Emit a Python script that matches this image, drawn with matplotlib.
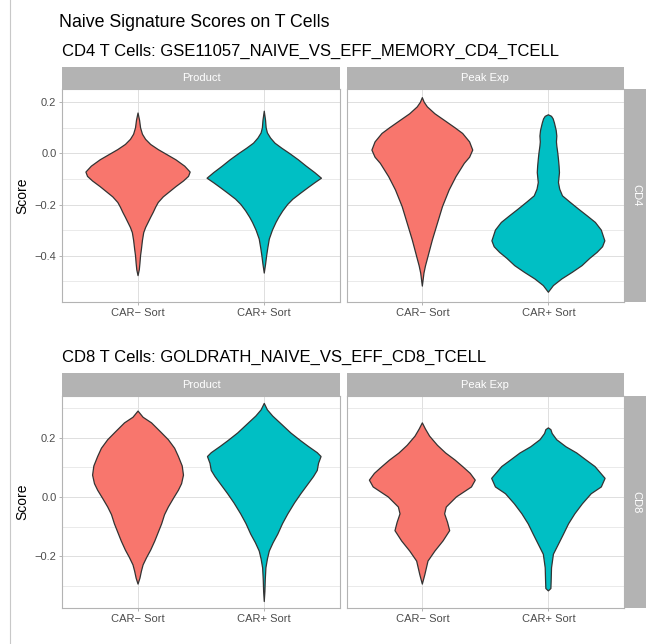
import numpy as np
import matplotlib
matplotlib.use("Agg")
import matplotlib.pyplot as plt
from matplotlib.lines import Line2D

plt.rcParams['font.family'] = ['Liberation Sans', 'DejaVu Sans']

# --------------------------------------------------
# data: violin outlines (score, half width in category units)
# --------------------------------------------------
groups = ["CAR\u2212 Sort", "CAR+ Sort"]
facets = ["Product", "Peak Exp"]
title = "Naive Signature Scores on T Cells"
cd4_subtitle = "CD4 T Cells: GSE11057_NAIVE_VS_EFF_MEMORY_CD4_TCELL"
cd8_subtitle = "CD8 T Cells: GOLDRATH_NAIVE_VS_EFF_CD8_TCELL"

cd4_yticks = [0.2, 0.0, -0.2, -0.4]
cd8_yticks = [0.2, 0.0, -0.2]

# CD4 / Product
cd4_prod_neg_y = [0.158, 0.13, 0.10, 0.075, 0.055, 0.035, 0.015, -0.005, -0.025, -0.05, -0.073, -0.09,
                  -0.108, -0.13, -0.15, -0.17, -0.192, -0.21, -0.231, -0.25, -0.27, -0.29, -0.31, -0.34,
                  -0.374, -0.40, -0.43, -0.455, -0.478]
cd4_prod_neg_w = [0.0, 0.012, 0.02, 0.035, 0.06, 0.10, 0.16, 0.23, 0.30, 0.37, 0.413, 0.40,
                  0.36, 0.30, 0.25, 0.20, 0.16, 0.14, 0.12, 0.10, 0.08, 0.06, 0.045, 0.035,
                  0.027, 0.02, 0.015, 0.01, 0.0]
cd4_prod_pos_y = [0.165, 0.13, 0.10, 0.08, 0.06, 0.04, 0.02, 0.0, -0.025, -0.05, -0.075, -0.097, -0.115,
                  -0.134, -0.155, -0.179, -0.20, -0.225, -0.25, -0.27, -0.30, -0.335, -0.37, -0.40,
                  -0.435, -0.468]
cd4_prod_pos_w = [0.0, 0.01, 0.015, 0.025, 0.05, 0.085, 0.14, 0.20, 0.27, 0.333, 0.40, 0.453, 0.40,
                  0.347, 0.29, 0.227, 0.185, 0.147, 0.115, 0.093, 0.065, 0.04, 0.028, 0.019,
                  0.01, 0.0]

# CD4 / Peak Exp
cd4_peak_neg_y = [0.218, 0.20, 0.182, 0.155, 0.13, 0.10, 0.078, 0.045, 0.013, -0.015, -0.039, -0.065,
                  -0.091, -0.143, -0.208, -0.273, -0.338, -0.403, -0.44, -0.468, -0.519]
cd4_peak_neg_w = [0.0, 0.015, 0.04, 0.10, 0.173, 0.26, 0.32, 0.375, 0.40, 0.375, 0.333, 0.30,
                  0.267, 0.213, 0.16, 0.12, 0.08, 0.045, 0.025, 0.013, 0.0]
cd4_peak_pos_y = [0.151, 0.145, 0.135, 0.119, 0.09, 0.068, 0.045, 0.029, 0.0, -0.023, -0.05, -0.075,
                  -0.095, -0.114, -0.14, -0.166, -0.19, -0.218, -0.245, -0.27, -0.30, -0.342, -0.365,
                  -0.387, -0.41, -0.439, -0.465, -0.491, -0.517, -0.543]
cd4_peak_pos_w = [0.0, 0.025, 0.038, 0.048, 0.062, 0.067, 0.064, 0.067, 0.075, 0.08, 0.085, 0.088,
                  0.084, 0.08, 0.09, 0.112, 0.17, 0.24, 0.31, 0.373, 0.42, 0.448, 0.43,
                  0.387, 0.33, 0.267, 0.19, 0.107, 0.04, 0.0]

# CD8 / Product
cd8_prod_neg_y = [0.291, 0.27, 0.251, 0.22, 0.194, 0.165, 0.137, 0.105, 0.074, 0.045, 0.023, -0.005,
                  -0.034, -0.06, -0.091, -0.12, -0.149, -0.18, -0.206, -0.23, -0.251, -0.275, -0.295]
cd8_prod_neg_w = [0.0, 0.04, 0.107, 0.18, 0.24, 0.29, 0.32, 0.35, 0.36, 0.345, 0.32, 0.28,
                  0.24, 0.21, 0.187, 0.16, 0.133, 0.10, 0.067, 0.04, 0.027, 0.015, 0.0]
cd8_prod_pos_y = [0.317, 0.295, 0.274, 0.245, 0.217, 0.19, 0.171, 0.15, 0.137, 0.114, 0.09, 0.069,
                  0.04, 0.011, -0.02, -0.057, -0.09, -0.126, -0.155, -0.183, -0.21, -0.24, -0.28,
                  -0.32, -0.354]
cd8_prod_pos_w = [0.0, 0.025, 0.067, 0.14, 0.21, 0.29, 0.35, 0.42, 0.45, 0.43, 0.42, 0.39,
                  0.34, 0.29, 0.24, 0.187, 0.145, 0.107, 0.07, 0.04, 0.025, 0.013, 0.008,
                  0.005, 0.0]

# CD8 / Peak Exp
cd8_peak_neg_y = [0.251, 0.23, 0.206, 0.175, 0.149, 0.125, 0.103, 0.08, 0.057, 0.034, 0.0, -0.034,
                  -0.057, -0.086, -0.114, -0.149, -0.183, -0.217, -0.263, -0.295]
cd8_peak_neg_w = [0.0, 0.025, 0.058, 0.12, 0.185, 0.26, 0.32, 0.38, 0.42, 0.39, 0.27, 0.19,
                  0.177, 0.20, 0.217, 0.164, 0.10, 0.045, 0.02, 0.0]
cd8_peak_pos_y = [0.234, 0.228, 0.215, 0.194, 0.17, 0.149, 0.125, 0.103, 0.063, 0.034, 0.011, -0.023,
                  -0.057, -0.091, -0.126, -0.16, -0.194, -0.24, -0.286, -0.31, -0.318]
cd8_peak_pos_w = [0.0, 0.02, 0.03, 0.066, 0.14, 0.225, 0.30, 0.37, 0.45, 0.42, 0.34, 0.27,
                  0.21, 0.16, 0.12, 0.08, 0.04, 0.025, 0.022, 0.02, 0.0]

colors = ["#F8766D", "#00BFC4"]

# --------------------------------------------------
# layout helpers (pixels)
# --------------------------------------------------
W, H = 646, 644
fig = plt.figure(figsize=(W / 100, H / 100), dpi=100)


def rect(l, t, r, b):
    return [l / W, 1 - b / H, (r - l) / W, (b - t) / H]


def fmt(v):
    s = "%.1f" % abs(v)
    return "\u2212" + s if v < 0 else s


def violin(ax, pos, ys, ws, color):
    ys = np.asarray(ys)
    ws = np.asarray(ws)
    xs = np.concatenate([pos - ws, (pos + ws)[::-1]])
    yy = np.concatenate([ys, ys[::-1]])
    ax.fill(xs, yy, facecolor=color, edgecolor="#333333", linewidth=0.9,
            joinstyle="round", zorder=3)


def strip(l, t, r, b, label, rot=0):
    sa = fig.add_axes(rect(l, t, r, b))
    sa.set_facecolor("#B3B3B3")
    sa.set_xticks([])
    sa.set_yticks([])
    for s in sa.spines.values():
        s.set_visible(False)
    sa.text(0.5, 0.5, label, color="white", fontsize=8, rotation=rot,
            ha="center", va="center", transform=sa.transAxes)


def panel(l, t, r, b, ylim, yticks, left):
    ax = fig.add_axes(rect(l, t, r, b))
    ax.set_xticks([1, 2])
    ax.set_xticklabels(groups)
    ax.set_yticks(yticks)
    ax.set_yticklabels([fmt(v) for v in yticks])
    minor = [round(v + 0.1, 2) for v in np.arange(-0.6, 0.4, 0.2)]
    ax.set_yticks(minor, minor=True)
    # limits after the ticks, otherwise the minor ticks widen the view
    ax.set_xlim(0.4, 2.6)
    ax.set_ylim(*ylim)
    ax.grid(which="major", color="#DEDEDE", linewidth=0.7, zorder=0)
    ax.grid(which="minor", axis="y", color="#E6E6E6", linewidth=0.6, zorder=0)
    ax.set_axisbelow(True)
    ax.tick_params(which="major", length=2.2, width=0.7, color="#B3B3B3",
                   labelsize=8, labelcolor="#4D4D4D", pad=2)
    ax.tick_params(which="minor", length=0)
    if not left:
        ax.tick_params(axis="y", which="both", length=0, labelleft=False)
    for s in ax.spines.values():
        s.set_color("#B3B3B3")
        s.set_linewidth(0.8)
    return ax


# --------------------------------------------------
# figure
# --------------------------------------------------
fig.add_artist(Line2D([10 / W, 10 / W], [0, 1], color="#C8C8C8", linewidth=0.8))

fig.text(59 / W, 1 - 27.3 / H, title, fontsize=12.8, ha="left", va="baseline")
fig.text(62 / W, 1 - 56 / H, cd4_subtitle, fontsize=12.0, ha="left", va="baseline")
fig.text(62 / W, 1 - 361.7 / H, cd8_subtitle, fontsize=12.0, ha="left", va="baseline")

rows = [
    (89.3, 301.7, (-0.58, 0.2507), cd4_yticks, "CD4",
     [[cd4_prod_neg_y, cd4_prod_neg_w, cd4_prod_pos_y, cd4_prod_pos_w],
      [cd4_peak_neg_y, cd4_peak_neg_w, cd4_peak_pos_y, cd4_peak_pos_w]]),
    (396.0, 608.3, (-0.377, 0.342), cd8_yticks, "CD8",
     [[cd8_prod_neg_y, cd8_prod_neg_w, cd8_prod_pos_y, cd8_prod_pos_w],
      [cd8_peak_neg_y, cd8_peak_neg_w, cd8_peak_pos_y, cd8_peak_pos_w]]),
]
cols = [(62.3, 340.0), (346.7, 624.0)]

for top, bot, ylim, yticks, rlabel, data in rows:
    for j, (l, r) in enumerate(cols):
        ax = panel(l, top, r, bot, ylim, yticks, left=(j == 0))
        ny, nw, py, pw = data[j]
        violin(ax, 1, ny, nw, colors[0])
        violin(ax, 2, py, pw, colors[1])
        if j == 0:
            ax.set_ylabel("Score", fontsize=10, labelpad=3.5)
        strip(l, top - 22.6, r, top, facets[j])
    strip(624.7, top, 647.3, bot, rlabel, rot=-90)

fig.savefig("out.png", dpi=100)
